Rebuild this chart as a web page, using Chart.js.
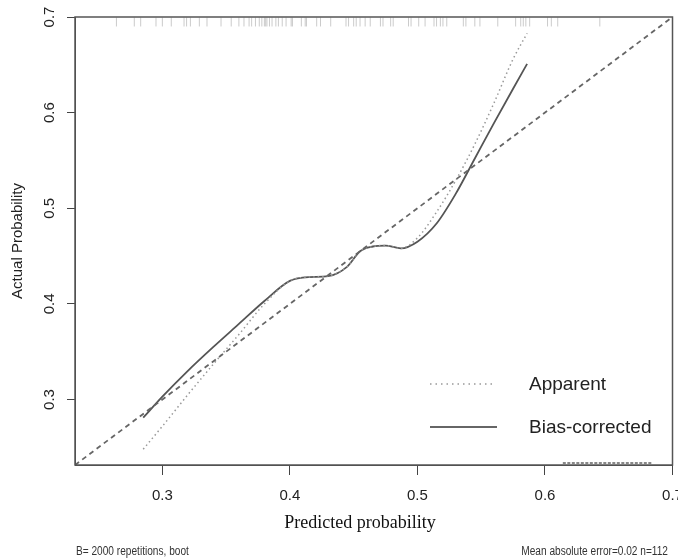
<!DOCTYPE html>
<html>
<head>
<meta charset="utf-8">
<script src="https://cdn.jsdelivr.net/npm/chart.js@4/dist/chart.umd.min.js"></script>
<style>
    html, body { margin: 0; padding: 0; background: #fff; }
    #wrap { width: 678px; height: 560px; position: relative; }
</style>
</head>
<body>
<div id="wrap"><canvas id="calChart"></canvas></div>
<script>
// axis range and ticks
const axisMin = 0.2315;
const axisMax = 0.70;
const xTicks = [0.3, 0.4, 0.5, 0.6, 0.7];
const yTicks = [0.3, 0.4, 0.5, 0.6, 0.7];

// calibration curves (predicted -> actual)
const predGrid = [0.285, 0.30, 0.32, 0.34, 0.36, 0.38, 0.40, 0.415, 0.43, 0.445, 0.455, 0.465, 0.475, 0.487, 0.50, 0.515, 0.53, 0.545, 0.56, 0.575, 0.586];
const apparent = [0.248, 0.272, 0.305, 0.337, 0.368, 0.400, 0.424, 0.428, 0.429, 0.439, 0.455, 0.460, 0.461, 0.458, 0.469, 0.496, 0.529, 0.567, 0.610, 0.656, 0.683];
const biasCorrected = [0.281, 0.303, 0.330, 0.355, 0.379, 0.403, 0.424, 0.428, 0.429, 0.439, 0.455, 0.460, 0.461, 0.458, 0.465, 0.484, 0.515, 0.552, 0.589, 0.625, 0.651];

// distribution of predicted probabilities (rug along the top)
const rugPred = [0.264, 0.278, 0.283, 0.295, 0.300, 0.307, 0.317, 0.319, 0.322, 0.329, 0.335, 0.346, 0.354, 0.360, 0.364,
    0.368, 0.370, 0.373, 0.376, 0.378, 0.380, 0.381, 0.382, 0.384, 0.386, 0.389, 0.391, 0.394, 0.397, 0.401, 0.402,
    0.409, 0.412, 0.413, 0.421, 0.424, 0.432, 0.444, 0.446, 0.450, 0.452, 0.455, 0.459, 0.463, 0.471, 0.473, 0.479,
    0.481, 0.493, 0.495, 0.501, 0.506, 0.513, 0.515, 0.518, 0.520, 0.523, 0.536, 0.538, 0.545, 0.549, 0.563, 0.577,
    0.581, 0.583, 0.585, 0.588, 0.602, 0.605, 0.610, 0.643];
const rugLevel = 0.6948;

// short marks near the bottom right corner
const lowRugX = [0.614, 0.684];
const lowRugLevel = 0.2336;

const idealLine = [axisMin, axisMax];

const footLeft = "B= 2000 repetitions, boot";
const footRight = "Mean absolute error=0.02 n=112";
const xTitle = "Predicted probability";
const yTitle = "Actual Probability";
const legendItems = ["Apparent", "Bias-corrected"];

const sansFont = "'Liberation Sans', Arial, sans-serif";

function toPoints(xs, ys) {
    return xs.map((x, i) => ({ x: x, y: ys[i] }));
}

// box, x title, footnotes and legend
const extrasPlugin = {
    id: "extras",
    afterDraw(chart) {
        let ctx = chart.ctx;
        let a = chart.chartArea;
        ctx.save();

        ctx.strokeStyle = "#555";
        ctx.lineWidth = 1.5;
        ctx.strokeRect(a.left, a.top, a.right - a.left, a.bottom - a.top);

        ctx.fillStyle = "#111";
        ctx.font = "18px 'Liberation Serif', 'Times New Roman', serif";
        ctx.textAlign = "center";
        ctx.textBaseline = "middle";
        ctx.fillText(xTitle, 360, 523);

        // narrow footnotes
        ctx.fillStyle = "#333";
        ctx.font = "12.5px " + sansFont;
        ctx.save();
        ctx.translate(76, 552);
        ctx.scale(0.81, 1);
        ctx.textAlign = "left";
        ctx.fillText(footLeft, 0, 0);
        ctx.restore();
        ctx.save();
        ctx.translate(668, 552);
        ctx.scale(0.81, 1);
        ctx.textAlign = "right";
        ctx.fillText(footRight, 0, 0);
        ctx.restore();

        // legend
        ctx.lineCap = "butt";
        ctx.strokeStyle = "#999";
        ctx.lineWidth = 1.5;
        ctx.setLineDash([1.5, 4]);
        ctx.beginPath();
        ctx.moveTo(430, 384);
        ctx.lineTo(493, 384);
        ctx.stroke();
        ctx.setLineDash([]);
        ctx.strokeStyle = "#666";
        ctx.lineWidth = 2;
        ctx.beginPath();
        ctx.moveTo(430, 427);
        ctx.lineTo(497, 427);
        ctx.stroke();

        ctx.fillStyle = "#222";
        ctx.font = "19px " + sansFont;
        ctx.textAlign = "left";
        ctx.fillText(legendItems[0], 529, 385);
        ctx.fillText(legendItems[1], 529, 428);
        ctx.restore();
    }
};

let ctx = document.getElementById("calChart").getContext("2d");
let chart = new Chart(ctx, {
    type: "scatter",
    data: {
        datasets: [
            {
                label: "rug",
                data: rugPred.map(v => ({ x: v, y: rugLevel })),
                pointStyle: "line",
                rotation: 90,
                pointRadius: 4.5,
                borderWidth: 1,
                borderColor: "rgba(140,140,140,0.45)",
                backgroundColor: "rgba(140,140,140,0.45)",
                showLine: false
            },
            {
                label: "ideal",
                data: toPoints(idealLine, idealLine),
                showLine: true,
                borderColor: "#666",
                borderWidth: 1.8,
                borderDash: [5, 4],
                pointRadius: 0
            },
            {
                label: "Apparent",
                data: toPoints(predGrid, apparent),
                showLine: true,
                borderColor: "#999",
                borderWidth: 1.5,
                borderDash: [1.5, 3],
                cubicInterpolationMode: "monotone",
                pointRadius: 0
            },
            {
                label: "Bias-corrected",
                data: toPoints(predGrid, biasCorrected),
                showLine: true,
                borderColor: "#555",
                borderWidth: 1.8,
                cubicInterpolationMode: "monotone",
                pointRadius: 0
            },
            {
                label: "lowRug",
                data: lowRugX.map(v => ({ x: v, y: lowRugLevel })),
                showLine: true,
                borderColor: "#888",
                borderWidth: 2,
                borderDash: [3, 1.5],
                pointRadius: 0
            }
        ]
    },
    options: {
        responsive: true,
        maintainAspectRatio: false,
        animation: false,
        layout: { padding: { top: 17, right: 3, bottom: 0, left: 0 } },
        plugins: {
            legend: { display: false },
            tooltip: { enabled: false }
        },
        scales: {
            x: {
                type: "linear",
                position: "bottom",
                min: axisMin,
                max: axisMax,
                afterBuildTicks: s => { s.ticks = xTicks.map(v => ({ value: v })); },
                afterFit: s => { s.height = 95; s.paddingLeft = 0; s.paddingRight = 0; },
                grid: { drawOnChartArea: false, drawTicks: true, tickLength: 10, color: "#444", lineWidth: 1 },
                border: { display: true, color: "#444", width: 1 },
                ticks: {
                    padding: 12,
                    color: "#222",
                    font: { family: sansFont, size: 15 },
                    maxRotation: 0,
                    autoSkip: false,
                    callback: v => v.toFixed(1)
                }
            },
            y: {
                type: "linear",
                position: "left",
                min: axisMin,
                max: axisMax,
                afterBuildTicks: s => { s.ticks = yTicks.map(v => ({ value: v })); },
                afterFit: s => { s.width = 75; s.paddingTop = 0; s.paddingBottom = 0; },
                grid: { drawOnChartArea: false, drawTicks: true, tickLength: 8, color: "#444", lineWidth: 1 },
                border: { display: true, color: "#444", width: 1 },
                ticks: {
                    padding: 6.5,
                    color: "#222",
                    font: { family: sansFont, size: 15 },
                    minRotation: 90,
                    maxRotation: 90,
                    crossAlign: "center",
                    autoSkip: false,
                    callback: v => v.toFixed(1)
                },
                title: {
                    display: true,
                    text: yTitle,
                    color: "#222",
                    font: { family: sansFont, size: 15 },
                    padding: { top: 9, bottom: 0 }
                }
            }
        }
    },
    plugins: [extrasPlugin]
});
</script>
</body>
</html>
